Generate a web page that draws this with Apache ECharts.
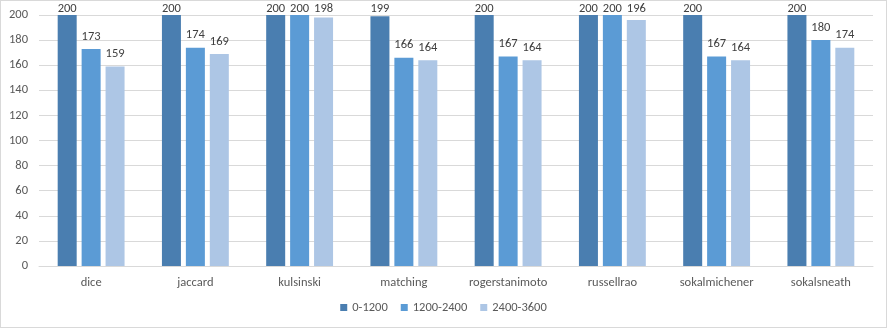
<!DOCTYPE html>
<html>
<head>
<meta charset="utf-8">
<script src="https://cdn.jsdelivr.net/npm/echarts@6/dist/echarts.min.js"></script>
<style>
  html, body { margin: 0; padding: 0; background: #fff; }
  #chart { width: 885px; height: 326px; border: 1px solid #d9d9d9; }
</style>
</head>
<body>
<div id="chart"></div>
<script>
// Distance metrics, grouped by range
const categories = ['dice', 'jaccard', 'kulsinski', 'matching', 'rogerstanimoto', 'russellrao', 'sokalmichener', 'sokalsneath'];
const seriesNames = ['0-1200', '1200-2400', '2400-3600'];
const range0to1200 = [200, 200, 200, 199, 200, 200, 200, 200];
const range1200to2400 = [173, 174, 200, 166, 167, 200, 167, 180];
const range2400to3600 = [159, 169, 198, 164, 164, 196, 164, 174];
const yTicks = { min: 0, max: 200, interval: 20 };

const colors = ['#4a7eb0', '#5b9bd5', '#adc6e5'];
const fontFamily = 'Calibri, Carlito, "Liberation Sans", Arial, sans-serif';
const textColor = '#595959';
const fontSize = 12.5;

const chart = echarts.init(document.getElementById('chart'));

function barSeries(name, data, color) {
  return {
    name: name,
    type: 'bar',
    data: data,
    barWidth: 19,
    barGap: '26%',
    itemStyle: { color: color },
    label: {
      show: true,
      position: 'top',
      distance: 6,
      color: '#404040',
      fontFamily: fontFamily,
      fontSize: fontSize
    },
    // keep value labels inside the canvas for bars reaching the top
    labelLayout: function (params) {
      const top = params.labelRect.y;
      return top < 1 ? { dy: 1 - top } : {};
    }
  };
}

chart.setOption({
  animation: false,
  color: colors,
  grid: { left: 38, right: 13, top: 14, bottom: 61 },
  legend: {
    bottom: 8,
    left: 'center',
    itemWidth: 7,
    itemHeight: 7,
    itemGap: 13,
    icon: 'rect',
    textStyle: { color: textColor, fontFamily: fontFamily, fontSize: fontSize },
    data: seriesNames
  },
  xAxis: {
    type: 'category',
    data: categories,
    axisLine: { lineStyle: { color: '#d9d9d9' } },
    axisTick: { show: false },
    axisLabel: { color: textColor, fontFamily: fontFamily, fontSize: fontSize, margin: 10 }
  },
  yAxis: {
    type: 'value',
    min: yTicks.min,
    max: yTicks.max,
    interval: yTicks.interval,
    axisLine: { show: false },
    axisTick: { show: false },
    splitLine: { lineStyle: { color: '#d9d9d9' } },
    axisLabel: { color: textColor, fontFamily: fontFamily, fontSize: fontSize, margin: 11 }
  },
  series: [
    barSeries(seriesNames[0], range0to1200, colors[0]),
    barSeries(seriesNames[1], range1200to2400, colors[1]),
    barSeries(seriesNames[2], range2400to3600, colors[2])
  ]
});
</script>
</body>
</html>
